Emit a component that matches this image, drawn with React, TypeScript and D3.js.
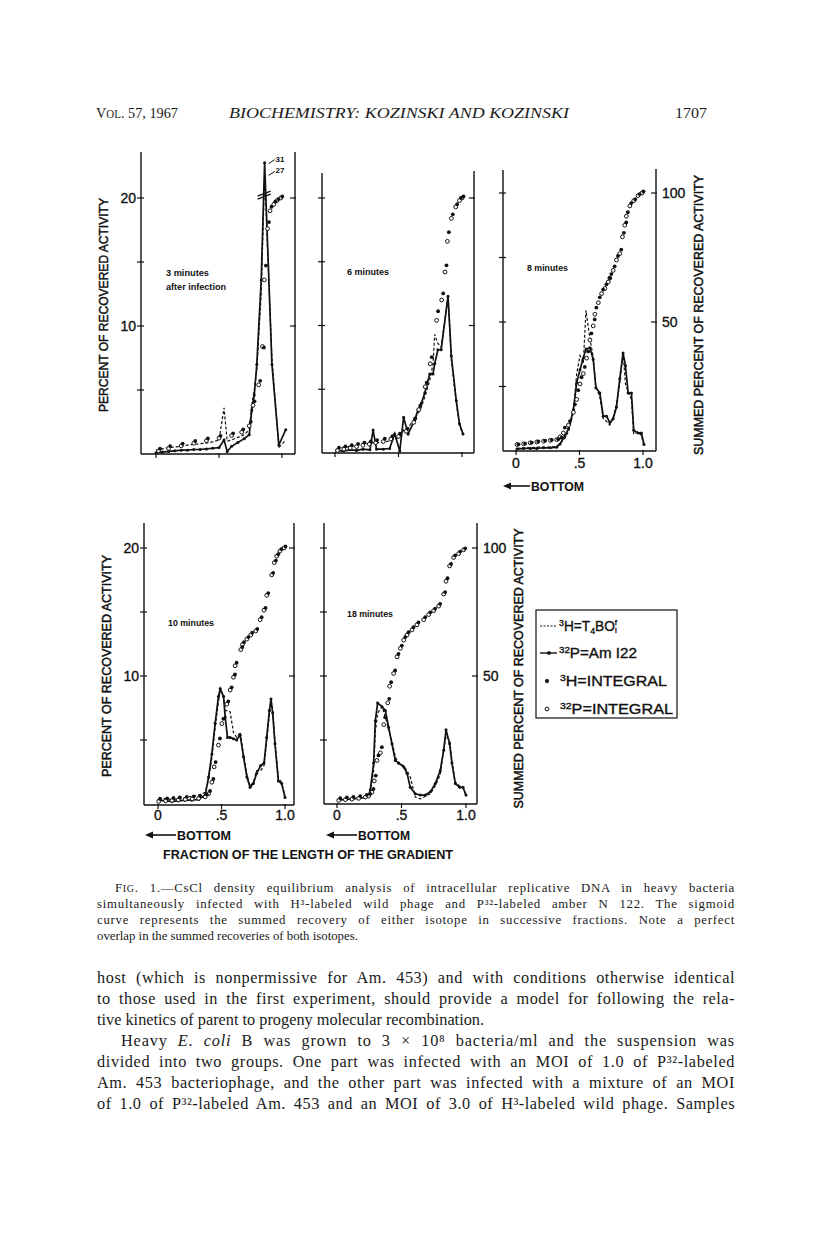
import React, { useLayoutEffect, useRef } from "react";
import * as d3 from "d3";

// fraction of the gradient length (0 = bottom) and percent of recovered activity
// ---- 3 minutes after infection ----
const FRAC_3MIN = [0.0, 0.05, 0.1, 0.15, 0.2, 0.25, 0.3, 0.35, 0.4, 0.45, 0.5, 0.54, 0.565, 0.6, 0.65, 0.7, 0.74, 0.76, 0.78, 0.8, 0.835, 0.862, 0.92, 0.975, 1.03];
const H3_3MIN = [0.3, 0.4, 0.5, 0.55, 0.6, 0.7, 0.75, 0.8, 0.85, 0.95, 1.1, 3.6, 1.0, 1.1, 1.3, 1.5, 1.9, 3.8, 5.0, 6.6, 12.5, 27, 7.5, 0.5, 1.1];
const P32_3MIN = [0.1, 0.15, 0.2, 0.25, 0.3, 0.3, 0.35, 0.35, 0.4, 0.45, 0.5, 1.1, 0.2, 0.6, 0.9, 1.2, 1.5, 3.4, 4.6, 7.0, 13.6, 31, 7.0, 0.7, 1.9];
const SUM_FRAC_3MIN = [0.02, 0.1, 0.2, 0.3, 0.4, 0.5, 0.6, 0.68, 0.74, 0.77, 0.815, 0.845, 0.86, 0.885, 0.905, 0.935, 0.96, 0.99];
const SUM_H3_3MIN = [1.5, 2.5, 3.5, 4.5, 5.5, 6.5, 7.5, 9, 12, 20, 28, 41, 73, 90, 96, 98, 99, 100];
const SUM_P32_3MIN = [1.2, 2.2, 3.2, 4.2, 5.2, 6.2, 7.2, 8.5, 11, 19, 27, 42, 68, 88, 95, 97.5, 99, 100];

// ---- 6 minutes ----
const FRAC_6MIN = [0.013, 0.065, 0.118, 0.17, 0.22, 0.275, 0.3, 0.327, 0.38, 0.43, 0.47, 0.51, 0.54, 0.576, 0.628, 0.654, 0.68, 0.707, 0.746, 0.772, 0.785, 0.81, 0.836, 0.89, 0.916, 0.955, 0.98, 1.008];
const H3_6MIN = [0.35, 0.45, 0.5, 0.6, 0.7, 0.75, 0.8, 0.8, 0.85, 0.95, 1.1, 1.25, 1.8, 2.0, 2.7, 3.1, 3.6, 4.4, 5.7, 7.0, 9.3, 8.6, 8.3, 12.3, 7.3, 3.9, 2.2, 1.4];
const P32_6MIN = [0.2, 0.15, 0.25, 0.2, 0.3, 0.25, 1.8, 0.3, 0.3, 0.35, 1.5, 0.15, 2.8, 1.5, 2.6, 3.4, 3.9, 4.7, 6.2, 6.2, 7.0, 8.1, 8.1, 12.3, 7.6, 4.1, 2.3, 1.5];
const SUM_FRAC_6MIN = [0.02, 0.07, 0.12, 0.17, 0.22, 0.27, 0.32, 0.38, 0.44, 0.5, 0.56, 0.62, 0.66, 0.71, 0.75, 0.8, 0.84, 0.866, 0.885, 0.916, 0.95, 0.98, 1.0];
const SUM_H3_6MIN = [1.5, 2, 2.5, 3, 3.5, 4, 4.5, 5, 6, 7, 9, 13, 18, 27, 37, 55, 62, 73, 86, 93, 97, 99.5, 100];
const SUM_P32_6MIN = [1, 1.5, 2, 2.5, 3, 3.5, 4, 4.5, 5.5, 6.5, 8.5, 12, 17, 26, 35, 52, 60, 71, 83, 92, 96.5, 99, 100];

// ---- 8 minutes ----
const FRAC_8MIN = [0.008, 0.06, 0.112, 0.164, 0.217, 0.27, 0.32, 0.347, 0.386, 0.413, 0.452, 0.478, 0.504, 0.53, 0.551, 0.582, 0.608, 0.629, 0.66, 0.687, 0.713, 0.739, 0.765, 0.791, 0.817, 0.843, 0.862, 0.883, 0.909, 0.927, 0.961, 0.987, 1.008];
const H3_8MIN = [0.2, 0.25, 0.25, 0.3, 0.3, 0.3, 0.35, 0.6, 1.0, 1.5, 3.0, 6.0, 7.4, 6.8, 10.9, 8.7, 7.3, 5.0, 4.2, 2.5, 2.3, 2.0, 2.6, 3.6, 5.2, 7.6, 5.2, 4.6, 4.0, 1.3, 1.5, 1.2, 0.4];
const P32_8MIN = [0.15, 0.2, 0.2, 0.2, 0.25, 0.25, 0.3, 0.55, 1.2, 1.7, 3.2, 5.3, 6.3, 7.2, 7.9, 8.0, 7.1, 4.9, 4.5, 2.7, 2.7, 2.2, 2.5, 3.4, 5.6, 7.6, 6.6, 4.5, 4.5, 1.6, 1.4, 1.4, 0.5];
const SUM_FRAC_8MIN = [0.008, 0.06, 0.112, 0.164, 0.217, 0.27, 0.32, 0.347, 0.373, 0.413, 0.452, 0.478, 0.504, 0.53, 0.556, 0.582, 0.608, 0.621, 0.648, 0.674, 0.7, 0.726, 0.739, 0.765, 0.791, 0.817, 0.838, 0.856, 0.869, 0.896, 0.927, 0.961, 0.992];
const SUM_H3_8MIN = [2, 2.3, 2.7, 3.1, 3.4, 3.7, 4, 4.6, 8.5, 11, 17.5, 23, 28, 32, 38, 45, 50.4, 55, 59, 62, 64, 66.5, 68, 71, 75, 77.5, 84, 88, 92, 95.5, 97, 99, 100];
const SUM_P32_8MIN = [2.5, 2.8, 3.2, 3.5, 3.8, 4.1, 4.4, 5.5, 7, 10, 15, 20, 26, 30, 36, 43, 48.5, 53, 57.5, 61, 63, 65.5, 67, 70, 74, 76.5, 83, 87.5, 91, 95, 97, 99, 100];

// ---- 10 minutes ----
const FRAC_10MIN = [0.005, 0.058, 0.11, 0.162, 0.215, 0.267, 0.32, 0.372, 0.398, 0.424, 0.45, 0.476, 0.49, 0.516, 0.529, 0.547, 0.568, 0.594, 0.62, 0.647, 0.673, 0.7, 0.725, 0.751, 0.777, 0.809, 0.835, 0.856, 0.877, 0.89, 0.903, 0.921, 0.948, 0.974, 1.0];
const H3_10MIN = [0.5, 0.4, 0.35, 0.4, 0.5, 0.6, 0.7, 0.9, 1.9, 3.6, 6.0, 8.0, 8.8, 8.6, 7.3, 7.3, 7.2, 5.6, 5.2, 5.6, 3.9, 2.3, 1.4, 1.7, 2.6, 2.6, 3.0, 5.0, 7.0, 8.0, 7.4, 4.9, 2.0, 1.7, 0.6];
const P32_10MIN = [0.3, 0.25, 0.2, 0.25, 0.3, 0.3, 0.35, 0.7, 2.1, 3.9, 6.3, 8.4, 9.0, 8.4, 6.8, 5.2, 5.2, 5.1, 5.0, 5.4, 3.7, 2.1, 1.3, 1.6, 2.4, 3.0, 3.2, 5.2, 7.3, 8.2, 7.1, 4.7, 1.8, 1.6, 0.5];
const SUM_FRAC_10MIN = [0.005, 0.06, 0.11, 0.16, 0.215, 0.27, 0.32, 0.372, 0.398, 0.424, 0.442, 0.476, 0.503, 0.542, 0.568, 0.594, 0.607, 0.652, 0.665, 0.7, 0.73, 0.77, 0.804, 0.835, 0.856, 0.895, 0.916, 0.935, 0.96, 0.992];
const SUM_H3_10MIN = [1.4, 1.6, 1.8, 2.0, 2.2, 2.4, 2.6, 3.2, 4.5, 9.2, 15.8, 25, 32.7, 39.5, 45, 50, 54.6, 60.7, 62.6, 64.6, 66.3, 67.8, 72.4, 76, 81.8, 89.7, 94.5, 97, 99, 100];
const SUM_P32_10MIN = [1.0, 1.2, 1.4, 1.6, 1.8, 2.0, 2.2, 2.8, 4.0, 8.5, 14.5, 23, 31.4, 39, 44.5, 49.5, 54, 60.3, 62.3, 64.4, 66, 67.6, 72, 75.7, 81.5, 89.5, 94.3, 96.8, 98.8, 100];

// ---- 18 minutes ----
const FRAC_18MIN = [0.013, 0.065, 0.116, 0.168, 0.22, 0.245, 0.258, 0.284, 0.297, 0.315, 0.349, 0.375, 0.4, 0.426, 0.452, 0.478, 0.517, 0.543, 0.568, 0.607, 0.646, 0.685, 0.724, 0.762, 0.8, 0.827, 0.845, 0.873, 0.891, 0.917, 0.951, 0.977, 1.0];
const H3_18MIN = [0.3, 0.35, 0.4, 0.45, 0.5, 0.55, 0.9, 2.6, 5.6, 7.1, 7.6, 6.8, 5.8, 4.9, 3.7, 3.1, 3.0, 2.6, 2.1, 0.55, 0.4, 0.6, 0.8, 1.4, 2.3, 4.2, 5.3, 5.0, 3.4, 1.7, 1.4, 1.3, 0.6];
const P32_18MIN = [0.3, 0.35, 0.4, 0.45, 0.5, 0.6, 1.1, 3.2, 6.5, 7.9, 7.6, 7.3, 6.0, 4.7, 3.4, 3.2, 2.9, 2.4, 1.3, 0.8, 0.7, 0.7, 0.95, 1.6, 2.6, 4.2, 5.8, 4.7, 3.2, 1.6, 1.3, 1.3, 0.7];
const SUM_FRAC_18MIN = [0.013, 0.065, 0.116, 0.168, 0.22, 0.245, 0.271, 0.289, 0.31, 0.336, 0.362, 0.393, 0.408, 0.439, 0.465, 0.491, 0.517, 0.543, 0.581, 0.62, 0.672, 0.711, 0.749, 0.788, 0.827, 0.845, 0.873, 0.904, 0.943, 0.982];
const SUM_H3_18MIN = [1.7, 2, 2.2, 2.5, 3, 3.4, 5.3, 10.5, 18.4, 21.6, 33.3, 40.5, 47, 51.6, 58, 61.3, 64.6, 66.5, 68.5, 70.4, 72.4, 74.3, 75.7, 77.6, 82.2, 87.6, 93.2, 96.5, 98, 99.3];
const SUM_P32_18MIN = [1.4, 1.7, 1.9, 2.2, 2.7, 3.1, 4.6, 9, 17, 20, 31, 39.5, 46, 51, 57.5, 60.8, 64, 66, 68, 70, 72, 74, 75.5, 77.3, 82, 87, 93, 96.3, 97.8, 99.3];

// ticks
const LEFT_TICKS = [5, 10, 15, 20];
const LEFT_LABELS = [10, 20];
const RIGHT_TICKS = [50, 100];
const X_TICKS = [0, 0.5, 1];
const X_TICK_LABELS = ["0", ".5", "1.0"];

const SANS = "'Liberation Sans', Arial, Helvetica, sans-serif";
const SERIF = "'Liberation Serif', 'Times New Roman', serif";
const INK = "#111";

// values above the break are drawn compressed (off-scale peaks of the 3 minute run)
const BREAK_AT = 20.3;
const shown = (v: number) => (v > BREAK_AT ? BREAK_AT + (v - BREAK_AT) * 0.23 : v);

type Geo = {
  left: number; right: number; topL: number; topR: number; bottom: number;
  x0: number; x1: number; y0: number; y20: number;
};

type PanelProps = {
  g: Geo;
  frac: number[]; h3: number[]; p32: number[];
  sumFrac: number[]; sumH3: number[]; sumP32: number[];
  label: { text: string; x: number; y: number; w: number }[];
  leftAxis?: { titleX: number; labelX: number; len: number };
  rightAxis?: { titleX: number; labelX: number };
  xLabels?: { y: number; arrowY: number; arrowX: number; textX: number; textW: number };
};

// medium-weight lettering of the figure
const medium = { stroke: INK, strokeWidth: 0.35 };

function Panel({ g, frac, h3, p32, sumFrac, sumH3, sumP32, label, leftAxis, rightAxis, xLabels }: PanelProps) {
  const x = d3.scaleLinear().domain([0, 1]).range([g.x0, g.x1]);
  const y = d3.scaleLinear().domain([0, 20]).range([g.y0, g.y20]);
  const yS = d3.scaleLinear().domain([0, 100]).range([g.y0, g.y20]);
  const path = (vals: number[]) =>
    d3.line<number>().x((_, i) => x(frac[i])).y((d) => y(shown(d)))(vals) || "";

  const offScale = [p32, h3]
    .map((vals) => {
      const i = d3.maxIndex(vals);
      return { i, v: vals[i] };
    })
    .filter((d) => d.v > BREAK_AT);

  return (
    <g>
      {/* frame */}
      <line x1={g.left} y1={g.topL} x2={g.left} y2={g.bottom} stroke={INK} strokeWidth={1.4} />
      <line x1={g.right} y1={g.topR} x2={g.right} y2={g.bottom} stroke={INK} strokeWidth={1.4} />
      <line x1={g.left} y1={g.bottom} x2={g.right} y2={g.bottom} stroke={INK} strokeWidth={1.4} />
      {LEFT_TICKS.map((t) => (
        <line key={"l" + t} x1={g.left - 4} x2={g.left + 3} y1={y(t)} y2={y(t)} stroke={INK} strokeWidth={1.2} />
      ))}
      {RIGHT_TICKS.map((t) => (
        <line key={"r" + t} x1={g.right - 5} x2={g.right + 1} y1={yS(t)} y2={yS(t)} stroke={INK} strokeWidth={1.2} />
      ))}
      {X_TICKS.map((t) => (
        <line key={"x" + t} x1={x(t)} x2={x(t)} y1={g.bottom - 1} y2={g.bottom + 4} stroke={INK} strokeWidth={1.2} />
      ))}

      {/* curves */}
      <path d={path(h3)} fill="none" stroke={INK} strokeWidth={1.2} strokeDasharray="3,2" />
      <path d={path(p32)} fill="none" stroke={INK} strokeWidth={1.7} />
      {p32.map((v, i) => (
        <circle key={"pd" + i} cx={x(frac[i])} cy={y(shown(v))} r={1.5} fill={INK} />
      ))}
      {sumP32.map((v, i) => (
        <circle key={"sp" + i} cx={x(sumFrac[i])} cy={yS(v)} r={1.9} fill="#fff" stroke={INK} strokeWidth={1} />
      ))}
      {sumH3.map((v, i) => (
        <circle key={"sh" + i} cx={x(sumFrac[i]) + 1.5} cy={yS(v) - 1.5} r={1.9} fill={INK} />
      ))}

      {/* axis break and off-scale values */}
      {offScale.length > 0 && (
        <g stroke={INK} strokeWidth={1.3}>
          <line x1={x(frac[offScale[0].i]) - 7} y1={y(BREAK_AT) + 2} x2={x(frac[offScale[0].i]) + 6} y2={y(BREAK_AT) - 3} />
          <line x1={x(frac[offScale[0].i]) - 7} y1={y(BREAK_AT) + 5} x2={x(frac[offScale[0].i]) + 6} y2={y(BREAK_AT)} />
        </g>
      )}
      {offScale.map((d) => {
        const px = x(frac[d.i]);
        const py = y(shown(d.v));
        return (
          <g key={"o" + d.v}>
            <line x1={px + 4} y1={py + 1} x2={px + 10} y2={py - 3} stroke={INK} strokeWidth={1} />
            <text x={px + 11} y={py - 1} fontFamily={SANS} fontWeight="bold" fontSize={8} fill={INK}>
              {d.v}
            </text>
          </g>
        );
      })}

      {label.map((l) => (
        <text key={l.text} x={l.x} y={l.y} fontFamily={SANS} fontWeight="bold" fontSize={9} fill={INK}
          textLength={l.w} lengthAdjust="spacingAndGlyphs">
          {l.text}
        </text>
      ))}

      {leftAxis && (
        <g fontFamily={SANS} fill={INK}>
          {LEFT_LABELS.map((t) => (
            <text key={t} x={leftAxis.labelX} y={y(t) + 5} textAnchor="end" fontSize={14} {...medium}>
              {t}
            </text>
          ))}
          <text transform={`translate(${leftAxis.titleX},${(g.topL + g.bottom) / 2 + 2}) rotate(-90)`}
            textAnchor="middle" dominantBaseline="central" fontSize={13} {...medium} strokeWidth={0.5}
            textLength={leftAxis.len} lengthAdjust="spacingAndGlyphs">
            PERCENT OF RECOVERED ACTIVITY
          </text>
        </g>
      )}

      {rightAxis && (
        <g fontFamily={SANS} fill={INK}>
          {RIGHT_TICKS.map((t) => (
            <text key={t} x={rightAxis.labelX} y={yS(t) + 5} fontSize={14} {...medium}>
              {t}
            </text>
          ))}
          <text transform={`translate(${rightAxis.titleX},${(g.topR + g.bottom) / 2 + 5}) rotate(-90)`}
            textAnchor="middle" dominantBaseline="central" fontSize={13} {...medium} strokeWidth={0.5}
            textLength={280} lengthAdjust="spacingAndGlyphs">
            SUMMED PERCENT OF RECOVERED ACTIVITY
          </text>
        </g>
      )}

      {xLabels && (
        <g fontFamily={SANS} fill={INK}>
          {X_TICKS.map((t, i) => (
            <text key={t} x={x(t)} y={xLabels.y} textAnchor="middle" fontSize={14} {...medium}>
              {X_TICK_LABELS[i]}
            </text>
          ))}
          <line x1={xLabels.arrowX + 4} y1={xLabels.arrowY} x2={xLabels.textX - 1} y2={xLabels.arrowY}
            stroke={INK} strokeWidth={1.6} />
          <path d={`M${xLabels.arrowX},${xLabels.arrowY} l8,-3.5 l0,7 z`} fill={INK} />
          <text x={xLabels.textX} y={xLabels.arrowY + 5} fontSize={13} fontWeight="bold"
            textLength={xLabels.textW} lengthAdjust="spacingAndGlyphs">
            BOTTOM
          </text>
        </g>
      )}
    </g>
  );
}

// justified line of running text: the missing width is shared by letter and word spacing
function Line({ x, y, width, children, ...rest }: any) {
  const ref = useRef<SVGTextElement>(null);
  useLayoutEffect(() => {
    const el = ref.current;
    if (!el || !width) return;
    el.style.wordSpacing = "0px";
    el.style.letterSpacing = "0px";
    const natural = el.getComputedTextLength();
    const txt = (el.textContent || "").trim();
    const spaces = txt.split(/\s+/).length - 1;
    const extra = width - natural;
    if (extra <= 0 || spaces === 0) return;
    const perChar = (extra * 0.45) / txt.length;
    const rest2 = extra - perChar * txt.length;
    el.style.letterSpacing = `${perChar}px`;
    el.style.wordSpacing = `${rest2 / spaces}px`;
  }, [width]);
  return (
    <text ref={ref} x={x} y={y} {...rest}>
      {children}
    </text>
  );
}

const G3: Geo = { left: 141, right: 295, topL: 152, topR: 152, bottom: 454, x0: 156, x1: 282, y0: 454, y20: 198 };
const G6: Geo = { left: 322, right: 474, topL: 173, topR: 171, bottom: 453, x0: 335, x1: 462, y0: 453, y20: 198 };
const G8: Geo = { left: 503, right: 656, topL: 170, topR: 169, bottom: 451, x0: 516, x1: 643, y0: 451, y20: 193 };
const G10: Geo = { left: 144, right: 294, topL: 523, topR: 523, bottom: 805, x0: 158, x1: 285, y0: 804, y20: 548 };
const G18: Geo = { left: 324, right: 477, topL: 523, topR: 523, bottom: 804, x0: 337, x1: 466, y0: 804, y20: 548 };

const LEGEND_ROWS = ["H=T", "P=Am I22", "H=INTEGRAL", "P=INTEGRAL"];

const CAPTION = [
  "CsCl density equilibrium analysis of intracellular replicative DNA in heavy bacteria",
  "simultaneously infected with H³-labeled wild phage and P³²-labeled amber N 122. The sigmoid",
  "curve represents the summed recovery of either isotope in successive fractions. Note a perfect",
  "overlap in the summed recoveries of both isotopes.",
];

const BODY = [
  "host (which is nonpermissive for Am. 453) and with conditions otherwise identical",
  "to those used in the first experiment, should provide a model for following the rela-",
  "tive kinetics of parent to progeny molecular recombination.",
  "",
  "divided into two groups. One part was infected with an MOI of 1.0 of P³²-labeled",
  "Am. 453 bacteriophage, and the other part was infected with a mixture of an MOI",
  "of 1.0 of P³²-labeled Am. 453 and an MOI of 3.0 of H³-labeled wild phage. Samples",
];

export default function App() {
  const bodyY = (i: number) => 983 + i * 21;
  return (
    <svg width={816} height={1257} viewBox="0 0 816 1257"
      style={{ position: "absolute", left: 0, top: 0, background: "#fff" }}>
      <rect width={816} height={1257} fill="#fff" />

      {/* running head */}
      <g fontFamily={SERIF} fontSize={15} fill="#1a1a1a">
        <text x={96} y={118} textLength={82} lengthAdjust="spacingAndGlyphs">
          V<tspan fontSize={11.5}>OL</tspan>. 57, 1967
        </text>
        <text x={229} y={118} fontStyle="italic" textLength={340} lengthAdjust="spacingAndGlyphs">
          BIOCHEMISTRY:  KOZINSKI AND KOZINSKI
        </text>
        <text x={675} y={118} textLength={32} lengthAdjust="spacingAndGlyphs">1707</text>
      </g>

      <Panel g={G3} frac={FRAC_3MIN} h3={H3_3MIN} p32={P32_3MIN}
        sumFrac={SUM_FRAC_3MIN} sumH3={SUM_H3_3MIN} sumP32={SUM_P32_3MIN}
        label={[{ text: "3 minutes", x: 166, y: 276, w: 43 }, { text: "after infection", x: 166, y: 290, w: 60 }]}
        leftAxis={{ titleX: 103, labelX: 136, len: 214 }} />
      <Panel g={G6} frac={FRAC_6MIN} h3={H3_6MIN} p32={P32_6MIN}
        sumFrac={SUM_FRAC_6MIN} sumH3={SUM_H3_6MIN} sumP32={SUM_P32_6MIN}
        label={[{ text: "6 minutes", x: 347, y: 275, w: 42 }]} />
      <Panel g={G8} frac={FRAC_8MIN} h3={H3_8MIN} p32={P32_8MIN}
        sumFrac={SUM_FRAC_8MIN} sumH3={SUM_H3_8MIN} sumP32={SUM_P32_8MIN}
        label={[{ text: "8 minutes", x: 527, y: 271, w: 41 }]}
        rightAxis={{ titleX: 698, labelX: 662 }}
        xLabels={{ y: 468, arrowY: 486, arrowX: 503, textX: 531, textW: 53 }} />
      <Panel g={G10} frac={FRAC_10MIN} h3={H3_10MIN} p32={P32_10MIN}
        sumFrac={SUM_FRAC_10MIN} sumH3={SUM_H3_10MIN} sumP32={SUM_P32_10MIN}
        label={[{ text: "10 minutes", x: 168, y: 626, w: 46 }]}
        leftAxis={{ titleX: 106, labelX: 139, len: 222 }}
        xLabels={{ y: 820, arrowY: 835, arrowX: 145, textX: 177, textW: 54 }} />
      <Panel g={G18} frac={FRAC_18MIN} h3={H3_18MIN} p32={P32_18MIN}
        sumFrac={SUM_FRAC_18MIN} sumH3={SUM_H3_18MIN} sumP32={SUM_P32_18MIN}
        label={[{ text: "18 minutes", x: 347, y: 617, w: 46 }]}
        rightAxis={{ titleX: 518, labelX: 483 }}
        xLabels={{ y: 820, arrowY: 835, arrowX: 326, textX: 358, textW: 52 }} />

      <text x={163} y={859} fontFamily={SANS} fontWeight="bold" fontSize={13} fill={INK}
        textLength={290} lengthAdjust="spacingAndGlyphs">
        FRACTION OF THE LENGTH OF THE GRADIENT
      </text>

      {/* legend */}
      <g fontFamily={SANS} fill={INK} {...medium}>
        <rect x={536} y={610} width={141} height={108} fill="none" stroke={INK} strokeWidth={1.2} />
        <line x1={540} x2={557} y1={626} y2={626} stroke={INK} strokeWidth={1.2} strokeDasharray="2,1.5" />
        <text x={559} y={631} fontSize={14} textLength={58} lengthAdjust="spacingAndGlyphs">
          <tspan fontSize={9} dy={-5}>3</tspan>
          <tspan dy={5}>{LEGEND_ROWS[0]}</tspan>
          <tspan fontSize={9} dy={3}>4</tspan>
          <tspan dy={-3}>BO</tspan>
          <tspan fontSize={8} dy={-6}>f</tspan>
          <tspan fontSize={8} dy={8} dx={-2}>i</tspan>
        </text>
        <line x1={540} x2={557} y1={653} y2={653} stroke={INK} strokeWidth={1.4} />
        <circle cx={549} cy={653} r={1.8} />
        <text x={559} y={658} fontSize={14} textLength={78} lengthAdjust="spacingAndGlyphs">
          <tspan fontSize={9} dy={-5}>32</tspan>
          <tspan dy={5}>{LEGEND_ROWS[1]}</tspan>
        </text>
        <circle cx={547} cy={681} r={1.9} />
        <text x={560} y={686} fontSize={14} textLength={107} lengthAdjust="spacingAndGlyphs">
          <tspan fontSize={9} dy={-5}>3</tspan>
          <tspan dy={5}>{LEGEND_ROWS[2]}</tspan>
        </text>
        <circle cx={547} cy={709} r={1.9} fill="#fff" stroke={INK} strokeWidth={1} />
        <text x={560} y={714} fontSize={14} textLength={113} lengthAdjust="spacingAndGlyphs">
          <tspan fontSize={9} dy={-5}>32</tspan>
          <tspan dy={5}>{LEGEND_ROWS[3]}</tspan>
        </text>
      </g>

      {/* caption */}
      <g fontFamily={SERIF} fontSize={12.8} fill="#1a1a1a">
        <Line x={115} y={892} width={620}>
          F<tspan fontSize={10}>IG</tspan>. 1.—{CAPTION[0]}
        </Line>
        <Line x={97} y={908} width={638}>{CAPTION[1]}</Line>
        <Line x={97} y={924} width={638}>{CAPTION[2]}</Line>
        <text x={97} y={940}>{CAPTION[3]}</text>
      </g>

      {/* body text */}
      <g fontFamily={SERIF} fontSize={16.3} fill="#1a1a1a">
        <Line x={97} y={bodyY(0)} width={638}>{BODY[0]}</Line>
        <Line x={97} y={bodyY(1)} width={638}>{BODY[1]}</Line>
        <text x={97} y={bodyY(2)}>{BODY[2]}</text>
        <Line x={121} y={bodyY(3)} width={614}>
          Heavy <tspan fontStyle="italic">E. coli</tspan> B was grown to 3 × 10⁸ bacteria/ml and the suspension was
        </Line>
        <Line x={97} y={bodyY(4)} width={638}>{BODY[4]}</Line>
        <Line x={97} y={bodyY(5)} width={638}>{BODY[5]}</Line>
        <Line x={97} y={bodyY(6)} width={638}>{BODY[6]}</Line>
      </g>
    </svg>
  );
}
